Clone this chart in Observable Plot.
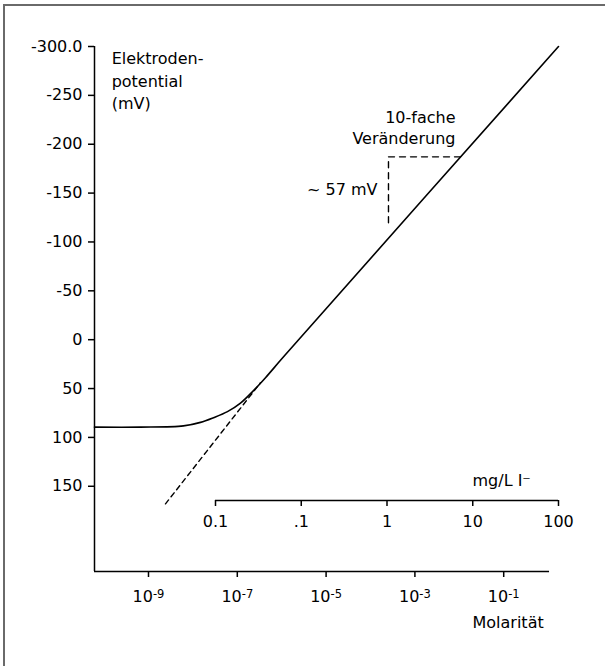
<!DOCTYPE html>
<html><head><meta charset="utf-8">
<script src="https://cdn.jsdelivr.net/npm/d3@7"></script>
<script src="https://cdn.jsdelivr.net/npm/@observablehq/plot@0.6"></script>
<style>
html,body{margin:0;padding:0;background:#fff;overflow:hidden;}
#wrap{position:relative;width:605px;height:666px;overflow:hidden;font-family:"DejaVu Sans",sans-serif;}
#frameTop{position:absolute;left:3px;top:4px;width:602px;height:1.5px;background:#6a6a6a;}
#frameLeft{position:absolute;left:3px;top:4px;width:1.5px;height:662px;background:#6a6a6a;}
#mainChart,#topAxis{position:absolute;left:0;}
#mainChart{top:0;}
#topAxis{top:480px;}
</style></head>
<body>
<div id="wrap"><div id="frameTop"></div><div id="frameLeft"></div><div id="mainChart"></div><div id="topAxis"></div></div>
<script>
// Electrode response curve (log10 of molarity, potential in mV)
const curveLogM = [-10.216, -9.18, -8.212, -7.829, -7.536, -7.221, -6.928, -6.635, -6.365, -6.027, -5.644, 0.234];
const curveMV   = [89.5, 89.5, 88.2, 84.6, 79.8, 73.6, 64.9, 52.1, 38.9, 21.1, 1.3, -300];
// Dashed extrapolation of the linear (Nernst) part
const extLogM = [-8.617, -6.477];
const extMV   = [168, 44];
// "10-fold change" bracket
const bracketLogM = [-3.595, -3.595, -1.973];
const bracketMV   = [-119.6, -187.1, -187.1];
// Axis ticks
const yTicks = [-300, -250, -200, -150, -100, -50, 0, 50, 100, 150];
const yTickLabels = ["-300.0", "-250", "-200", "-150", "-100", "-50", "0", "50", "100", "150"];
const xTickExp = [-9, -7, -5, -3, -1];
const xTickBase = "10";
const xTickSup = ["-9", "-7", "-5", "-3", "-1"];
const mgTicks = [0.01, 0.1, 1, 10, 100];
const mgTickLabels = ["0.1", ".1", "1", "10", "100"];

const xMin = 10 ** -10.216, xMax = 10 ** 0.234, xAxisEnd = 10 ** 0.032;
const yTop = -300, yBottom = 237.2;
const xTicks = xTickExp.map(e => 10 ** e);

const toXY = (ls, vs) => ls.map((l, i) => ({x: 10 ** l, y: vs[i]}));
const curve = toXY(curveLogM, curveMV);
const ext = toXY(extLogM, extMV);
const bracket = toXY(bracketLogM, bracketMV);

const font = "DejaVu Sans";
const mainPlot = Plot.plot({
  width: 605, height: 666,
  marginLeft: 94, marginRight: 47, marginTop: 46, marginBottom: 95,
  style: {fontFamily: font, fontSize: "16px", background: "transparent", overflow: "visible", color: "#000"},
  x: {type: "log", domain: [xMin, xMax]},
  y: {domain: [yTop, yBottom], reverse: true},
  marks: [
    Plot.ruleX([xMin], {y1: yTop, y2: yBottom, strokeWidth: 1.5}),
    Plot.ruleY([yBottom], {x1: xMin, x2: xAxisEnd, strokeWidth: 1.5}),
    Plot.axisY(yTicks, {tickSize: 6, tickPadding: 6, strokeWidth: 1.5, fontSize: 16,
      tickFormat: d => yTickLabels[yTicks.indexOf(d)], label: null}),
    Plot.axisX(xTicks, {tickSize: 6, tickPadding: 13.5, strokeWidth: 1.5, fontSize: 16,
      tickFormat: d => xTickBase + "|" + xTickSup[xTicks.indexOf(d)], label: null}),
    Plot.line(curve, {x: "x", y: "y", strokeWidth: 1.6, curve: "catmull-rom"}),
    Plot.line(ext, {x: "x", y: "y", strokeWidth: 1.4, strokeDasharray: "5,4"}),
    Plot.line(bracket, {x: "x", y: "y", strokeWidth: 1.4, strokeDasharray: "6,5"}),
    Plot.text(["Elektroden-\npotential\n(mV)"], {x: 10 ** -9.83, y: -298, textAnchor: "start", lineAnchor: "top", lineHeight: 1.4, fontSize: 16}),
    Plot.text(["10-fache\nVeränderung"], {x: 10 ** -2.086, y: -236.6, textAnchor: "end", lineAnchor: "top", lineHeight: 1.31, fontSize: 16}),
    Plot.text(["~ 57 mV"], {x: 10 ** -3.842, y: -153.5, textAnchor: "end", fontSize: 16}),
    Plot.text(["mg/L I\u207B"], {x: 10 ** -1.703, y: 144, textAnchor: "start", fontSize: 16}),
    Plot.text(["Molarität"], {x: 10 ** -1.703, y: 289.3, textAnchor: "start", fontSize: 16})
  ]
});
// turn "10|-9" into 10 with a raised exponent
d3.select(mainPlot).selectAll("text").each(function() {
  const t = this.textContent;
  if (t.indexOf("|") < 0) return;
  const [base, sup] = t.split("|");
  const sel = d3.select(this);
  sel.text(base);
  sel.append("tspan").attr("dy", "-0.42em").attr("font-size", "11.5px").text(sup);
});
document.getElementById("mainChart").appendChild(mainPlot);

const topPlot = Plot.plot({
  width: 605, height: 60,
  marginLeft: 215, marginRight: 47, marginTop: 0, marginBottom: 40,
  style: {fontFamily: font, fontSize: "16px", background: "transparent", overflow: "visible", color: "#000"},
  x: {type: "log", domain: [0.01, 100]},
  y: {domain: [0, 1], axis: null},
  marks: [
    Plot.ruleY([0], {x1: 0.01, x2: 100, strokeWidth: 1.5}),
    Plot.axisX(mgTicks, {tickSize: 6, tickPadding: 9.5, strokeWidth: 1.5, fontSize: 16,
      tickFormat: d => mgTickLabels[mgTicks.indexOf(d)], label: null})
  ]
});
document.getElementById("topAxis").appendChild(topPlot);
</script>
</body></html>
